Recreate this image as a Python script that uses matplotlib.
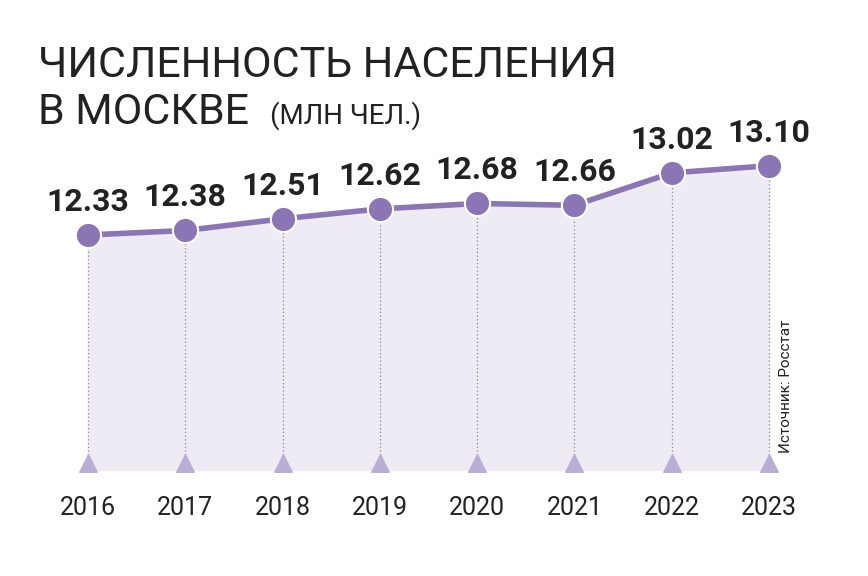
import matplotlib
matplotlib.use("Agg")
import matplotlib.pyplot as plt

years = [2016, 2017, 2018, 2019, 2020, 2021, 2022, 2023]
population = [12.33, 12.38, 12.51, 12.62, 12.68, 12.66, 13.02, 13.10]
value_labels = ["12.33", "12.38", "12.51", "12.62", "12.68", "12.66", "13.02", "13.10"]

plt.rcParams['font.family'] = ['Roboto', 'DejaVu Sans']
fig = plt.figure(figsize=(8.68, 5.76), dpi=100)
ax = fig.add_axes([0, 0, 1, 1])
ax.set_xlim(2015.096, 2024.017)
ax.set_ylim(8.541, 14.941)
ax.axis('off')

base = 9.719
line_c = '#8a75b5'
ax.fill_between(years, population, base, color='#eeebf5', zorder=1)
for x, y in zip(years, population):
    ax.plot([x, x], [base, y], color='#888888', lw=0.9, ls=(0, (1, 2)), zorder=2)
ax.plot(years, population, color=line_c, lw=4, zorder=3)
ax.scatter(years, population, s=330, color=line_c, edgecolor='white', linewidth=1.5, zorder=4)
ax.scatter(years, [base + 0.08] * len(years), marker='^', s=160, color='#b9aed6', zorder=4)
for x, y, t in zip(years, population, value_labels):
    ax.text(x, y + 0.2, t, ha='center', va='bottom', fontsize=23, fontweight='bold', color='#222222', zorder=5)
for x in years:
    ax.text(x, base - 0.42, str(x), ha='center', va='center', fontsize=18, color='#222222')

fig.text(0.044, 0.887, "ЧИСЛЕННОСТЬ НАСЕЛЕНИЯ", fontsize=31, color='#222222', va='center', ha='left')
fig.text(0.044, 0.804, "В МОСКВЕ", fontsize=31, color='#222222', va='center', ha='left')
fig.text(0.311, 0.80, "(МЛН ЧЕЛ.)", fontsize=20, color='#222222', va='center', ha='left')
fig.text(0.905, 0.33, "Источник: Росстат", rotation=90, fontsize=11, color='#222222', ha='center', va='center')

fig.savefig('out.png', dpi=100, facecolor='white')
